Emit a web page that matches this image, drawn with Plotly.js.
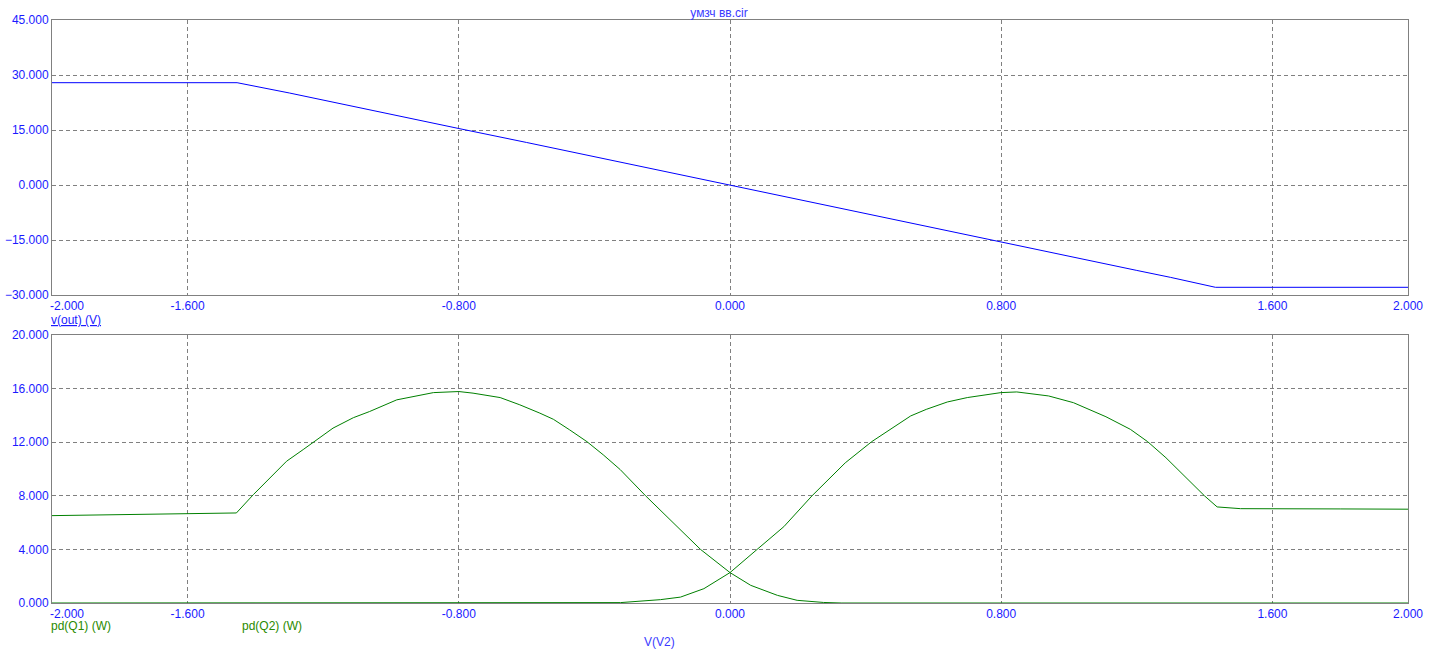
<!DOCTYPE html>
<html>
<head>
<meta charset="utf-8">
<script src="https://cdn.plot.ly/plotly-3.0.1.min.js"></script>
<style>
html,body{margin:0;padding:0;background:#fff;}
#chart{width:1438px;height:662px;}
</style>
</head>
<body>
<div id="chart"></div>
<script>
// ---- data ----
const vOutX = [-2.0, -1.8, -1.6, -1.454, -1.3, -1.2, -1.0, -0.8, -0.6, -0.4, -0.2, 0.0, 0.2, 0.4, 0.6, 0.8, 1.0, 1.2, 1.3, 1.432, 1.6, 1.8, 2.0];
const vOutY = [27.9, 27.9, 27.9, 27.9, 25.1, 23.2, 19.3, 15.4, 11.6, 7.7, 3.9, 0.0, -3.9, -7.7, -11.6, -15.5, -19.4, -23.3, -25.2, -27.9, -27.9, -27.9, -27.9];

const q1X = [-2.0, -1.8, -1.6, -1.456, -1.406, -1.357, -1.308, -1.259, -1.224, -1.171, -1.111, -1.063, -0.983, -0.925, -0.875, -0.8, -0.758, -0.678, -0.62, -0.561, -0.521, -0.473, -0.422, -0.374, -0.324, -0.249, -0.17, -0.087, 0.0, 0.061, 0.14, 0.198, 0.276, 0.33, 1.0, 2.0];
const q1Y = [6.52, 6.58, 6.65, 6.72, 8.09, 9.32, 10.58, 11.45, 12.08, 13.05, 13.83, 14.29, 15.16, 15.46, 15.7, 15.78, 15.66, 15.33, 14.79, 14.17, 13.71, 12.92, 12.04, 11.06, 9.96, 8.0, 6.07, 4.0, 2.27, 1.32, 0.57, 0.2, 0.04, 0.0, 0.0, 0.0];

const q2X = [-2.0, -1.0, -0.33, -0.323, -0.205, -0.146, -0.077, 0.0, 0.08, 0.159, 0.242, 0.291, 0.34, 0.418, 0.533, 0.579, 0.641, 0.70, 0.799, 0.846, 0.94, 1.013, 1.109, 1.181, 1.232, 1.286, 1.352, 1.4, 1.437, 1.506, 1.8, 2.0];
const q2Y = [0.0, 0.0, 0.0, 0.03, 0.25, 0.44, 1.07, 2.27, 4.0, 5.7, 8.0, 9.2, 10.46, 12.04, 13.96, 14.45, 15.0, 15.33, 15.7, 15.75, 15.45, 14.95, 13.9, 12.96, 12.04, 10.84, 9.21, 7.99, 7.17, 7.04, 7.02, 7.0];

const xTickVals = [-2.0, -1.6, -0.8, 0.0, 0.8, 1.6, 2.0];
const xTickText = ['\u00a0\u00a0\u00a0\u00a0\u00a0\u00a0\u00a0\u00a0\u00a0-2.000', '-1.600', '-0.800', '0.000', '0.800', '1.600', '2.000'];
const topYTicks = [-30, -15, 0, 15, 30, 45];
const botYTicks = [0, 4, 8, 12, 16, 20];

const chartTitle = 'умзч вв.cir';
const topLabel = 'v(out) (V)';
const q1Label = 'pd(Q1) (W)';
const q2Label = 'pd(Q2) (W)';
const xLabel = 'V(V2)';

// ---- styling ----
const FONT = 'Arial, "Liberation Sans", sans-serif';
const TICKC = '#1a1aff';
const GRID = '#808080';

function xAxis(anchor) {
  return {
    range: [-2, 2], anchor: anchor,
    tickvals: xTickVals, ticktext: xTickText,
    showgrid: true, gridcolor: GRID, gridwidth: 1, griddash: '4px,3px',
    showline: true, linecolor: GRID, linewidth: 1, mirror: true,
    zeroline: false, ticks: '', tickfont: {family: FONT, size: 12, color: TICKC},
    fixedrange: true
  };
}
function yAxis(range, ticks, domain, anchor) {
  return {
    range: range, domain: domain, anchor: anchor,
    tickvals: ticks, tickformat: '.3f',
    showgrid: true, gridcolor: GRID, gridwidth: 1, griddash: '4px,3px',
    showline: true, linecolor: GRID, linewidth: 1, mirror: true,
    zeroline: false, ticks: '', tickfont: {family: FONT, size: 12, color: TICKC},
    fixedrange: true
  };
}

const traces = [
  {x: vOutX, y: vOutY, xaxis: 'x', yaxis: 'y', mode: 'lines', line: {color: '#0000ff', width: 1}, hoverinfo: 'skip'},
  {x: q1X, y: q1Y, xaxis: 'x2', yaxis: 'y2', mode: 'lines', line: {color: '#008000', width: 1}, hoverinfo: 'skip', cliponaxis: false},
  {x: q2X, y: q2Y, xaxis: 'x2', yaxis: 'y2', mode: 'lines', line: {color: '#008000', width: 1}, hoverinfo: 'skip', cliponaxis: false}
];

const layout = {
  width: 1438, height: 662,
  margin: {l: 52, r: 30, t: 20, b: 59},
  paper_bgcolor: '#ffffff', plot_bgcolor: '#ffffff',
  showlegend: false,
  font: {family: FONT, size: 12, color: TICKC},
  title: {text: chartTitle, font: {family: FONT, size: 12, color: '#3a3aff'}, x: 0.5, xanchor: 'center', y: 0.981, yanchor: 'middle'},
  xaxis: xAxis('y'),
  yaxis: yAxis([-30, 45], topYTicks, [0.5283, 1], 'x'),
  xaxis2: xAxis('y2'),
  yaxis2: yAxis([0, 20], botYTicks, [0, 0.4597], 'x2'),
  annotations: [
    {text: '<u>' + topLabel + '</u>', xref: 'paper', yref: 'paper', x: 0, y: 0.4854, xanchor: 'left', yanchor: 'middle', showarrow: false, font: {family: FONT, size: 12, color: TICKC}, xshift: -3},
    {text: q1Label, xref: 'paper', yref: 'paper', x: 0, y: -0.040, xanchor: 'left', yanchor: 'middle', showarrow: false, font: {family: FONT, size: 12, color: '#2a8a00'}, xshift: -3},
    {text: q2Label, xref: 'x2', yref: 'paper', x: -1.44, y: -0.040, xanchor: 'left', yanchor: 'middle', showarrow: false, font: {family: FONT, size: 12, color: '#2a8a00'}, xshift: -2},
    {text: xLabel, xref: 'paper', yref: 'paper', x: 0.4483, y: -0.0669, xanchor: 'center', yanchor: 'middle', showarrow: false, font: {family: FONT, size: 12, color: '#3a3aff'}}
  ]
};

Plotly.newPlot('chart', traces, layout, {displayModeBar: false, staticPlot: true});
</script>
</body>
</html>
